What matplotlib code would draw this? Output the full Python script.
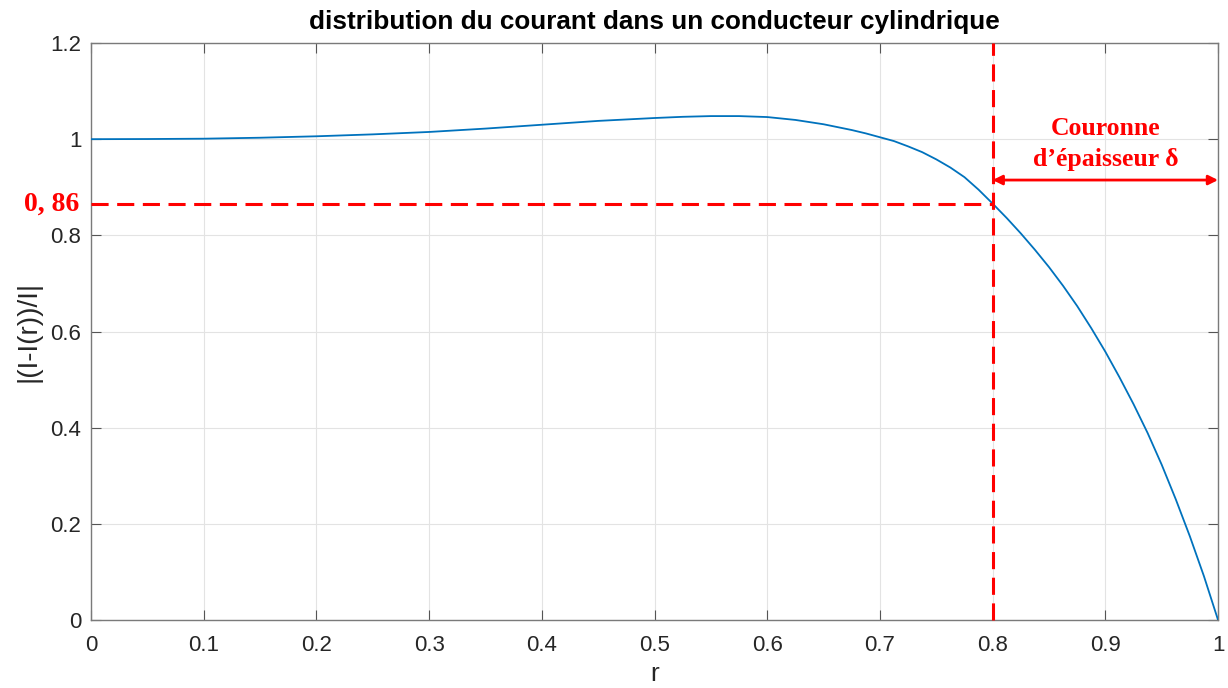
import matplotlib
matplotlib.use("Agg")
import matplotlib.pyplot as plt
from matplotlib.ticker import FuncFormatter

# values
r = [0.0, 0.05, 0.1, 0.15, 0.2, 0.25, 0.3, 0.35, 0.4, 0.45, 0.5, 0.525,
     0.55, 0.575, 0.6, 0.625, 0.65, 0.675, 0.6875, 0.7, 0.7125, 0.725,
     0.7375, 0.75, 0.7625, 0.775, 0.7875, 0.8, 0.8125, 0.825, 0.8375,
     0.85, 0.8625, 0.875, 0.8875, 0.9, 0.9125, 0.925, 0.9375, 0.95,
     0.9625, 0.975, 0.9875, 1.0]
ratio = [1.000, 1.0003, 1.001, 1.003, 1.006, 1.010, 1.015, 1.022, 1.030,
         1.038, 1.044, 1.0465, 1.048, 1.048, 1.046, 1.040, 1.031, 1.019,
         1.012, 1.004, 0.996, 0.985, 0.973, 0.958, 0.941, 0.921, 0.895,
         0.866, 0.836, 0.804, 0.770, 0.734, 0.695, 0.653, 0.607, 0.558,
         0.505, 0.449, 0.389, 0.323, 0.251, 0.174, 0.091, 0.0]

r_mark = 0.8
level_mark = 0.865
arrow_level = 0.915
x_ticks = [0, 0.1, 0.2, 0.3, 0.4, 0.5, 0.6, 0.7, 0.8, 0.9, 1]
y_ticks = [0, 0.2, 0.4, 0.6, 0.8, 1, 1.2]

plt.rcParams["font.family"] = ["Liberation Sans", "DejaVu Sans"]

fig = plt.figure(figsize=(12.28, 6.88), dpi=100)
ax = fig.add_axes([0.0741, 0.0988, 0.9178, 0.8387])

ax.plot(r, ratio, color="#0072BD", lw=1.3, zorder=3,
        solid_joinstyle="round")

# red construction lines
ax.plot([0, r_mark], [level_mark, level_mark], color="red", lw=2.2,
        ls=(0, (5.6, 2.8)), zorder=4, clip_on=False)
ax.plot([r_mark, r_mark], [0, 1.2], color="red", lw=2.2,
        ls=(0, (5.6, 2.8)), zorder=4, clip_on=False)
ax.annotate("", xy=(1.0, arrow_level), xytext=(r_mark, arrow_level),
            arrowprops=dict(arrowstyle="<|-|>", color="red", lw=2,
                            mutation_scale=14, shrinkA=0, shrinkB=0))
ax.text(0.9, 0.99, "Couronne\nd\u2019épaisseur \u03b4", color="red",
        family="Liberation Serif", fontweight="bold", fontsize=18.5,
        ha="center", va="center", linespacing=1.45)
ax.text(-0.01, level_mark, "0, 86", color="red", family="Liberation Serif",
        fontweight="bold", fontsize=20, ha="right", va="center")

ax.set_xlim(0, 1)
ax.set_ylim(0, 1.2)
ax.set_xticks(x_ticks)
ax.set_yticks(y_ticks)
fmt = FuncFormatter(lambda v, p: "%g" % v)
ax.xaxis.set_major_formatter(fmt)
ax.yaxis.set_major_formatter(fmt)
ax.tick_params(direction="in", length=7, width=0.8, color="#555555",
               labelsize=16, labelcolor="#262626", top=True, right=True)
ax.tick_params(axis="x", pad=11)
ax.tick_params(axis="y", pad=7)
ax.grid(True, color="#e3e3e3", lw=0.8)
ax.set_axisbelow(True)
for s in ax.spines.values():
    s.set_color("#7a7a7a")
    s.set_linewidth(1.0)

ax.set_title("distribution du courant dans un conducteur cylindrique",
             fontsize=18.8, fontweight="bold", pad=10)
ax.set_xlabel("r", fontsize=19, color="#262626", labelpad=4)
ax.set_ylabel("|(I-I(r))/I|", fontsize=20, color="#262626", labelpad=6)

fig.savefig("out.png", dpi=100)
